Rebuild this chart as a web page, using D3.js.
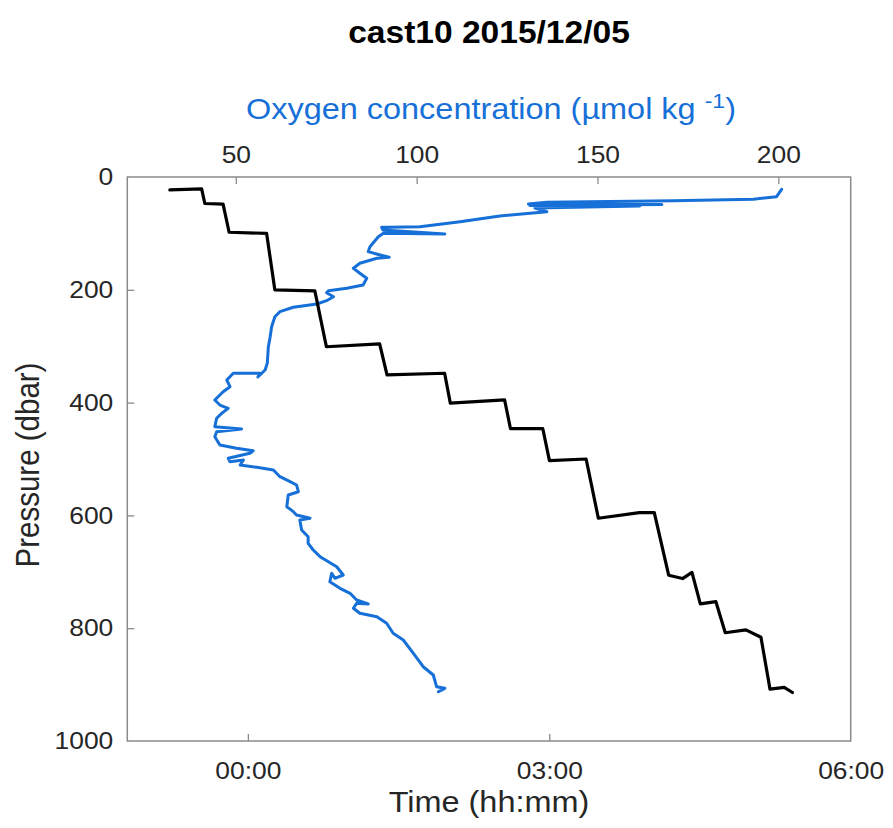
<!DOCTYPE html>
<html>
<head>
<meta charset="utf-8">
<script src="https://cdn.jsdelivr.net/npm/d3@7"></script>
<style>
    html, body { margin: 0; padding: 0; background: #fff; }
</style>
</head>
<body>
<div id="chart"></div>
<script>
// cast times, minutes after 2015/12/05 00:00 (black trace)
var castMinutes = [-46.6, -27.6, -25.7, -14.8, -11.2, 11.2, 16.1, 40.0, 46.9, 78.7, 83.1, 117.5,
    120.9, 153.3, 156.8, 176.1, 180.1, 202.0, 209.3, 233.8, 242.7, 251.3, 259.6, 265.2,
    270.2, 279.5, 285.1, 297.4, 306.4, 311.8, 320.3, 325.2];
var castPressure = [23, 21, 47, 48, 98, 100, 200, 202, 301, 296, 351, 348,
    401, 395, 446, 446, 503, 500, 605, 595, 595, 706, 712, 701,
    757, 753, 808, 803, 816, 908, 905, 914];

// oxygen profile (blue trace)
var oxygenValues = [200.9, 199.5, 193.1, 171.0, 136.0, 130.9, 167.8, 131.3, 161.7, 132.7, 136.0, 123.0,
    112.0, 100.9, 92.6, 90.3, 90.7, 107.8, 90.8, 89.4, 87.1, 86.6, 89.9, 92.4,
    89.0, 84.3, 82.5, 84.3, 86.2, 85.2, 80.7, 75.6, 75.1, 77.0, 75.1, 72.4,
    65.9, 62.2, 60.8, 59.9, 59.5, 59.0, 58.7, 58.1, 56.1, 56.7, 49.3, 47.5,
    48.4, 46.5, 44.2, 45.6, 47.9, 46.1, 44.7, 44.2, 51.6, 44.7, 44.2, 45.6,
    50.2, 54.8, 53.9, 47.9, 48.4, 52.1, 51.2, 55.8, 60.4, 62.2, 65.0, 66.8,
    67.3, 64.5, 64.1, 65.9, 66.8, 70.5, 67.7, 68.2, 70.0, 70.0, 71.4, 73.3,
    77.9, 79.7, 77.4, 76.5, 76.0, 78.8, 81.6, 83.4, 86.6, 83.4, 82.5, 84.3,
    89.0, 91.7, 93.5, 96.3, 99.1, 101.8, 104.6, 105.5, 107.8, 106.0];
var oxygenPressure = [21.8, 34.9, 39.5, 42.0, 44.9, 47.9, 48.8, 50.5, 51.4, 55.0, 61.5, 69.1,
    79.3, 88.1, 89.2, 89.2, 94.0, 101.1, 99.8, 105.9, 123.6, 132.4, 138.3, 142.4,
    144.1, 153.0, 161.9, 170.7, 179.6, 191.5, 197.3, 201.6, 205.1, 212.2, 219.3, 225.2,
    231.0, 238.8, 247.7, 265.4, 283.2, 300.9, 330.3, 342.2, 354.6, 348.0, 348.0, 359.9,
    371.8, 380.7, 395.4, 404.3, 410.1, 419.0, 427.8, 442.7, 446.8, 451.6, 460.5, 475.2,
    481.0, 485.3, 489.9, 498.8, 504.8, 501.8, 510.6, 514.7, 519.5, 531.4, 540.2, 546.1,
    558.0, 563.8, 584.6, 593.4, 599.3, 605.1, 608.2, 625.9, 637.8, 649.5, 661.3, 673.2,
    691.0, 705.7, 711.5, 702.7, 717.6, 729.3, 738.1, 750.0, 757.1, 755.9, 764.7, 773.6,
    779.6, 791.3, 809.0, 820.9, 844.5, 868.3, 883.0, 903.7, 906.6, 912.6];

// axes
var pressureTicks = [0, 200, 400, 600, 800, 1000];
var oxygenTicks = [50, 100, 150, 200];
var timeTickLabels = ['00:00', '03:00', '06:00'];
var pressureDomain = [0, 1000];
var oxygenDomain = [20, 220];
var timeDomainMinutes = [-72, 360];

function getChart() {
    var attrs = {
        svgWidth: 893,
        svgHeight: 828,
        marginTop: 177,
        marginBottom: 87,
        marginRight: 42.3,
        marginLeft: 127.3,
        container: '#chart',
        defaultFont: '"Liberation Sans", Arial, Helvetica, sans-serif',
        textFill: '#262626',
        frameColor: '#8a8a8a',
        oxygenColor: '#1670d8',
        castColor: '#000000',
        tickLength: 7,
        tickFontSize: 24,
        labelFontSize: 29.5,
        textStretch: 1.1   // glyphs in the original are a bit wide
    };

    var main = function (selection) {
        selection.each(function () {
            var container = d3.select(this);

            var calc = {};
            calc.chartWidth = attrs.svgWidth - attrs.marginLeft - attrs.marginRight;
            calc.chartHeight = attrs.svgHeight - attrs.marginTop - attrs.marginBottom;
            calc.centerX = attrs.marginLeft + calc.chartWidth / 2;

            var base = new Date(2015, 11, 5, 0, 0);
            var toDate = function (m) { return new Date(base.getTime() + m * 60000); };
            var parseTime = function (s) {
                var p = s.split(':');
                return toDate(+p[0] * 60 + +p[1]);
            };

            // scales
            var y = d3.scaleLinear().domain(pressureDomain).range([0, calc.chartHeight]);
            var xOxy = d3.scaleLinear().domain(oxygenDomain).range([0, calc.chartWidth]);
            var xTime = d3.scaleTime()
                .domain(timeDomainMinutes.map(toDate))
                .range([0, calc.chartWidth]);

            var svg = container.append('svg')
                .attr('width', attrs.svgWidth)
                .attr('height', attrs.svgHeight)
                .attr('font-family', attrs.defaultFont)
                .style('background-color', '#fff');

            var chart = svg.append('g')
                .attr('transform', 'translate(' + attrs.marginLeft + ',' + attrs.marginTop + ')');

            // title
            svg.append('text')
                .attr('transform', 'translate(' + calc.centerX + ',43) scale(' + attrs.textStretch + ',1)')
                .attr('text-anchor', 'middle')
                .attr('font-size', 30.5)
                .attr('font-weight', 'bold')
                .attr('fill', '#000')
                .text('cast10 2015/12/05');

            // lines
            var castData = castMinutes.map(function (m, i) { return { t: toDate(m), p: castPressure[i] }; });
            var oxyData = oxygenValues.map(function (o, i) { return { o: o, p: oxygenPressure[i] }; });

            chart.append('path')
                .datum(oxyData)
                .attr('fill', 'none')
                .attr('stroke', attrs.oxygenColor)
                .attr('stroke-width', 3)
                .attr('stroke-linejoin', 'round')
                .attr('stroke-linecap', 'round')
                .attr('d', d3.line().x(function (d) { return xOxy(d.o); }).y(function (d) { return y(d.p); }));

            chart.append('path')
                .datum(castData)
                .attr('fill', 'none')
                .attr('stroke', attrs.castColor)
                .attr('stroke-width', 3.2)
                .attr('stroke-linejoin', 'round')
                .attr('stroke-linecap', 'round')
                .attr('d', d3.line().x(function (d) { return xTime(d.t); }).y(function (d) { return y(d.p); }));

            // frame
            chart.append('rect')
                .attr('x', 0).attr('y', 0)
                .attr('width', calc.chartWidth)
                .attr('height', calc.chartHeight)
                .attr('fill', 'none')
                .attr('stroke', attrs.frameColor)
                .attr('stroke-width', 1.5);

            // axes (ticks point inward)
            var yAxis = d3.axisLeft(y).tickValues(pressureTicks).tickFormat(d3.format('d'))
                .tickSize(-attrs.tickLength).tickPadding(14);
            var topAxis = d3.axisTop(xOxy).tickValues(oxygenTicks).tickSize(-attrs.tickLength).tickPadding(14);
            var bottomAxis = d3.axisBottom(xTime)
                .tickValues(timeTickLabels.map(parseTime))
                .tickFormat(d3.timeFormat('%H:%M'))
                .tickSize(-attrs.tickLength).tickPadding(21);

            var gy = chart.append('g').call(yAxis);
            var gt = chart.append('g').call(topAxis);
            var gb = chart.append('g').attr('transform', 'translate(0,' + calc.chartHeight + ')').call(bottomAxis);

            [gy, gt, gb].forEach(function (g) {
                g.select('.domain').remove();
                g.selectAll('.tick line').attr('stroke', attrs.frameColor).attr('stroke-width', 1.3);
                g.selectAll('.tick text')
                    .attr('font-size', attrs.tickFontSize)
                    .attr('font-family', attrs.defaultFont)
                    .attr('fill', attrs.textFill)
                    .each(function () {
                        var t = d3.select(this);
                        var tx = +t.attr('x') || 0, ty = +t.attr('y') || 0;
                        t.attr('x', 0).attr('y', 0)
                            .attr('transform', 'translate(' + tx + ',' + ty + ') scale(' + attrs.textStretch + ',1)');
                    });
            });
            // the corner ticks coincide with the frame
            gy.selectAll('.tick line').filter(function (d) { return d === 0 || d === 1000; }).remove();
            gb.selectAll('.tick line').filter(function (d, i) { return i === timeTickLabels.length - 1; }).remove();

            // axis titles
            svg.append('text')
                .attr('transform', 'translate(39,' + (attrs.marginTop + calc.chartHeight / 2 + 6) + ') rotate(-90) scale(1,' + attrs.textStretch + ')')
                .attr('text-anchor', 'middle')
                .attr('font-size', attrs.labelFontSize)
                .attr('fill', attrs.textFill)
                .text('Pressure (dbar)');

            svg.append('text')
                .attr('transform', 'translate(' + calc.centerX + ',812) scale(' + attrs.textStretch + ',1)')
                .attr('text-anchor', 'middle')
                .attr('font-size', attrs.labelFontSize)
                .attr('fill', attrs.textFill)
                .text('Time (hh:mm)');

            var oxyLabel = svg.append('text')
                .attr('transform', 'translate(' + (calc.centerX + 2) + ',119) scale(' + attrs.textStretch + ',1)')
                .attr('text-anchor', 'middle')
                .attr('font-size', attrs.labelFontSize)
                .attr('fill', attrs.oxygenColor);
            oxyLabel.append('tspan').text('Oxygen concentration (µmol kg ');
            oxyLabel.append('tspan').attr('dy', -11).attr('font-size', 21).text('-1');
            oxyLabel.append('tspan').attr('dy', 11).text(')');
        });
    };

    main.run = function () {
        d3.select(attrs.container).call(main);
        return main;
    };

    return main;
}

getChart().run();
</script>
</body>
</html>
